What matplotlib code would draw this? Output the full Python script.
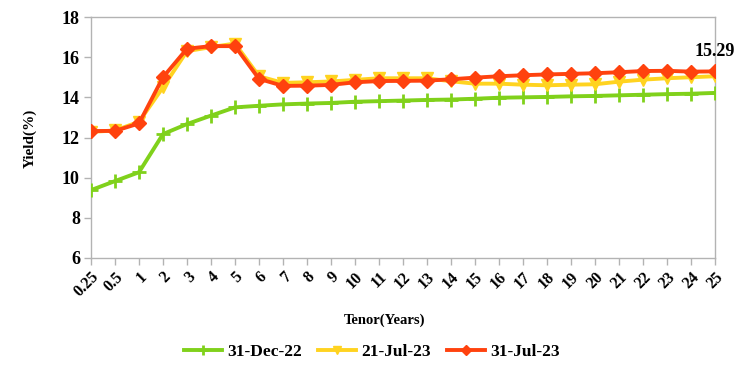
import numpy as np
import matplotlib.pyplot as plt

# tenors (categorical axis)
tenors = ['0.25', '0.5'] + [str(i) for i in range(1, 26)]

# yield curves
dec22 = [9.38, 9.83, 10.27, 12.17, 12.67, 13.09, 13.50, 13.58, 13.65, 13.69, 13.72,
         13.78, 13.81, 13.84, 13.87, 13.89, 13.93, 13.98, 14.00, 14.02, 14.05, 14.07,
         14.10, 14.13, 14.16, 14.18, 14.22]
jul21 = [12.28, 12.35, 12.78, 14.50, 16.30, 16.50, 16.68, 15.05, 14.72, 14.75, 14.79,
         14.87, 14.95, 14.95, 14.95, 14.80, 14.68, 14.68, 14.63, 14.60, 14.63, 14.65,
         14.78, 14.88, 14.95, 15.00, 15.05]
jul31 = [12.32, 12.33, 12.70, 15.00, 16.42, 16.55, 16.55, 14.92, 14.57, 14.58, 14.62,
         14.75, 14.81, 14.82, 14.83, 14.90, 14.98, 15.05, 15.10, 15.14, 15.17, 15.20,
         15.25, 15.31, 15.32, 15.28, 15.29]

labels = ['31-Dec-22', '21-Jul-23', '31-Jul-23']
colors = ['#80D11B', '#FFD320', '#FF420E']

plt.rcParams['font.family'] = ['Liberation Serif', 'DejaVu Serif']

fig = plt.figure(figsize=(7.37, 3.9), dpi=100)
ax = fig.add_axes([91/737, 1 - 258/390, (715 - 91)/737, (258 - 17)/390])

x = np.arange(len(tenors))
ax.plot(x, dec22, color=colors[0], lw=2.8, marker='+', ms=10, mew=2, label=labels[0], zorder=3)
ax.plot(x, jul21, color=colors[1], lw=2.8, marker='v', ms=8, label=labels[1], zorder=4)
ax.plot(x, jul31, color=colors[2], lw=2.8, marker='D', ms=7, label=labels[2], zorder=5)

# label on the last point of latest curve
ax.text(x[-1], jul31[-1] + 0.55, f'{jul31[-1]:.2f}', ha='center', va='bottom',
        fontsize=13, fontweight='bold')

ax.set_xlim(0, len(tenors) - 1)
ax.set_ylim(6, 18)
ax.set_yticks(range(6, 19, 2))
ax.set_xticks(x)
ax.set_xticklabels(tenors, rotation=45, ha='right', rotation_mode='anchor', fontsize=11.5, fontweight='bold')
for t in ax.get_yticklabels():
    t.set_fontsize(13)
    t.set_fontweight('bold')

for s in ax.spines.values():
    s.set_color('#B3B3B3')
    s.set_linewidth(1)
ax.tick_params(axis='both', color='#B3B3B3', length=5, width=1, direction='out', pad=3)

fig.text(30/737, 1 - 138/390, 'Yield(%)', rotation=90, ha='center', va='center',
         fontsize=11, fontweight='bold')
fig.text(385/737, 1 - 320/390, 'Tenor(Years)', ha='center', va='center',
         fontsize=10.5, fontweight='bold')

fig.legend(loc='center', bbox_to_anchor=(372/737, 1 - 352/390), ncol=3, frameon=False,
           prop={'size': 12.5, 'weight': 'bold'}, handlelength=2.2, columnspacing=0.9,
           handletextpad=0.3, markerscale=0.7)

fig.savefig('out.png', dpi=100)
